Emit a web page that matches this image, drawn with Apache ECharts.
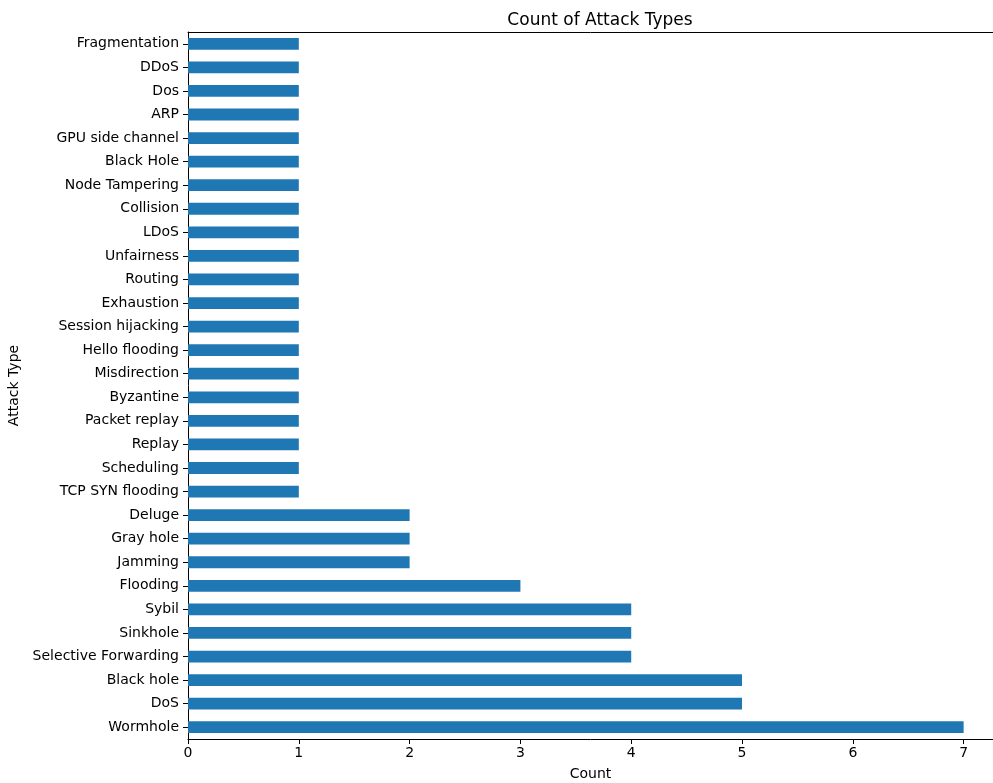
<!DOCTYPE html>
<html>
<head>
<meta charset="utf-8">
<script src="https://cdn.jsdelivr.net/npm/echarts@6/dist/echarts.min.js"></script>
<style>
  html, body { margin: 0; padding: 0; background: #fff; }
  #chart { width: 993px; height: 783px; }
</style>
</head>
<body>
<div id="chart"></div>
<script>
// bottom to top, as drawn
var attackTypes = [
  'Wormhole', 'DoS', 'Black hole', 'Selective Forwarding', 'Sinkhole', 'Sybil',
  'Flooding', 'Jamming', 'Gray hole', 'Deluge', 'TCP SYN flooding', 'Scheduling',
  'Replay', 'Packet replay', 'Byzantine', 'Misdirection', 'Hello flooding',
  'Session hijacking', 'Exhaustion', 'Routing', 'Unfairness', 'LDoS', 'Collision',
  'Node Tampering', 'Black Hole', 'GPU side channel', 'ARP', 'Dos', 'DDoS', 'Fragmentation'
]
var counts = [
  7, 5, 5, 4, 4, 4,
  3, 2, 2, 2, 1, 1,
  1, 1, 1, 1, 1,
  1, 1, 1, 1, 1, 1,
  1, 1, 1, 1, 1, 1, 1
]
var countTicks = [0, 1, 2, 3, 4, 5, 6, 7]

var font = 'DejaVu Sans'
var xMax = 7.265 // figure is cut at the right edge
var chart = echarts.init(document.getElementById('chart'))
var option = {
  animation: false,
  textStyle: { fontFamily: font },
  title: {
    text: 'Count of Attack Types',
    left: 595,
    top: 7,
    textAlign: 'center',
    textStyle: { fontFamily: font, fontSize: 17, fontWeight: 'normal', color: '#000' }
  },
  grid: {
    left: 188,
    top: 32,
    bottom: 44,
    right: 0,
    outerBoundsMode: 'none'
  },
  xAxis: [{
    type: 'value',
    min: 0,
    max: xMax,
    name: 'Count',
    nameLocation: 'middle',
    nameGap: 28,
    nameTextStyle: { fontFamily: font, fontSize: 14, color: '#000' },
    axisLine: { show: true, lineStyle: { color: '#000', width: 1 } },
    axisTick: { show: true, inside: false, length: 5, customValues: countTicks, lineStyle: { color: '#000' } },
    axisLabel: {
      fontFamily: font, fontSize: 14, color: '#000', margin: 7,
      customValues: countTicks
    },
    splitLine: { show: false }
  }, {
    // top spine only
    type: 'value',
    position: 'top',
    min: 0,
    max: xMax,
    axisLine: { show: true, onZero: false, lineStyle: { color: '#000', width: 1 } },
    axisTick: { show: false },
    axisLabel: { show: false },
    splitLine: { show: false }
  }],
  yAxis: {
    type: 'category',
    data: attackTypes,
    name: 'Attack Type',
    nameLocation: 'middle',
    nameRotate: 90,
    nameGap: 161,
    nameTextStyle: { fontFamily: font, fontSize: 14, color: '#000' },
    axisLine: { show: true, lineStyle: { color: '#000', width: 1 } },
    axisTick: { show: true, alignWithLabel: true, length: 5, lineStyle: { color: '#000' } },
    axisLabel: { fontFamily: font, fontSize: 14, color: '#000', margin: 9, interval: 0 },
    splitLine: { show: false }
  },
  series: [{
    type: 'bar',
    xAxisIndex: 0,
    data: counts,
    barWidth: '50%',
    itemStyle: { color: '#1f77b4' }
  }]
}
chart.setOption(option)
</script>
</body>
</html>
